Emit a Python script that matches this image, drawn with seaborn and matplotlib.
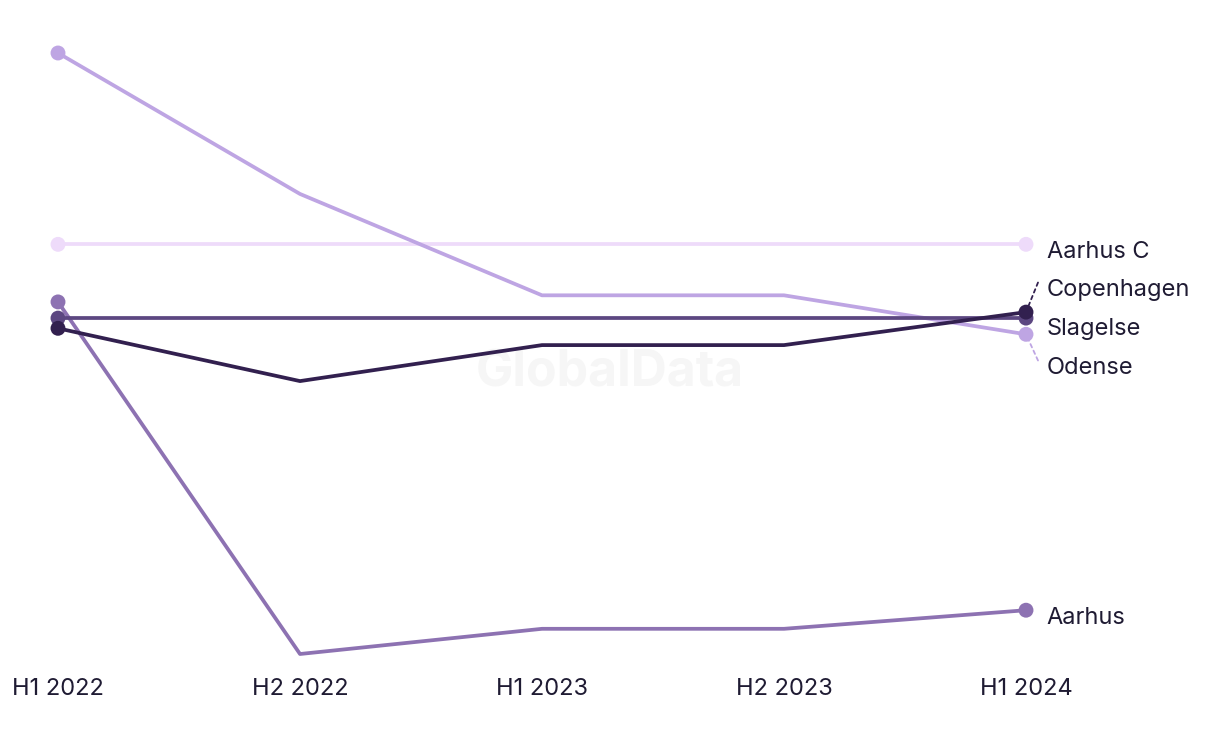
import matplotlib
matplotlib.use("Agg")
import matplotlib.pyplot as plt
import seaborn as sns
import pandas as pd

# values (arbitrary linear scale)
periods = ["H1 2022", "H2 2022", "H1 2023", "H2 2023", "H1 2024"]
aarhus_c = [69.3, 69.3, 69.3, 69.3, 69.3]
odense = [101.2, 77.7, 60.8, 60.8, 54.3]
aarhus = [59.7, 1.0, 5.2, 5.2, 8.3]
slagelse = [57.0, 57.0, 57.0, 57.0, 57.0]
copenhagen = [55.3, 46.5, 52.5, 52.5, 58.0]

series = {
    "Aarhus C": aarhus_c,
    "Odense": odense,
    "Aarhus": aarhus,
    "Slagelse": slagelse,
    "Copenhagen": copenhagen,
}
colors = {
    "Aarhus C": "#eedbfa",
    "Odense": "#bea5e3",
    "Aarhus": "#8d72b2",
    "Slagelse": "#5c4781",
    "Copenhagen": "#32204f",
}

rows = []
for name, vals in series.items():
    for i, v in enumerate(vals):
        rows.append({"city": name, "x": i, "period": periods[i], "value": v})
df = pd.DataFrame(rows)

sns.set_style("white")
plt.rcParams["font.family"] = ["Inter", "DejaVu Sans"]
text_col = "#1f1b33"

fig = plt.figure(figsize=(12.2, 7.44), dpi=100)
ax = fig.add_axes([58 / 1220, (744 - 654) / 744, (1026 - 58) / 1220, (654 - 53) / 744])

# watermark behind the lines
ax.text(0.5, 0.498, "GlobalData", transform=fig.transFigure, fontsize=36,
        fontweight="bold", color="#f6f6f6", ha="center", va="center", zorder=0)

sns.lineplot(data=df, x="x", y="value", hue="city", palette=colors,
             hue_order=list(series), linewidth=2.7, legend=False, ax=ax,
             clip_on=False)
ends = df[df["x"].isin([0, len(periods) - 1])]
sns.scatterplot(data=ends, x="x", y="value", hue="city", palette=colors,
                hue_order=list(series), s=115, linewidth=0, legend=False,
                ax=ax, clip_on=False, zorder=5)

ax.set_xlim(0, len(periods) - 1)
ax.set_ylim(1.0, 101.2)
ax.set_xticks(range(len(periods)))
ax.set_xticklabels(periods, fontsize=17, color=text_col)
ax.tick_params(axis="x", length=0, pad=17)
ax.set_yticks([])
ax.set_xlabel("")
ax.set_ylabel("")
sns.despine(ax=ax, left=True, bottom=True)

# end labels with simple spreading
gap = 6.5
last = [(name, vals[-1]) for name, vals in series.items()]
last.sort(key=lambda t: -t[1])
groups = []
for name, v in last:
    if groups and groups[-1][-1][1] - v < gap:
        groups[-1].append((name, v))
    else:
        groups.append([(name, v)])
label_pos = {}
for g in groups:
    mean = sum(v for _, v in g) / len(g)
    top = mean + gap * (len(g) - 1) / 2
    for k, (name, v) in enumerate(g):
        label_pos[name] = top - k * gap

xe = len(periods) - 1
x_step = (len(periods) - 1) / 968  # data units per pixel
for name, v in last:
    ly = label_pos[name]
    ax.annotate(name, xy=(xe, ly), xytext=(15, -5.5), textcoords="offset points",
                fontsize=17, color=text_col, va="center", ha="left",
                annotation_clip=False)
    if abs(ly - v) > 1.5:
        ax.annotate("", xy=(xe, v), xytext=(xe + 12 * x_step, ly),
                    textcoords="data",
                    arrowprops=dict(arrowstyle="-", linestyle=(0, (2, 2)),
                                    color=colors[name], lw=1.3,
                                    shrinkA=0, shrinkB=4),
                    annotation_clip=False)

fig.savefig("out.png", dpi=100)
